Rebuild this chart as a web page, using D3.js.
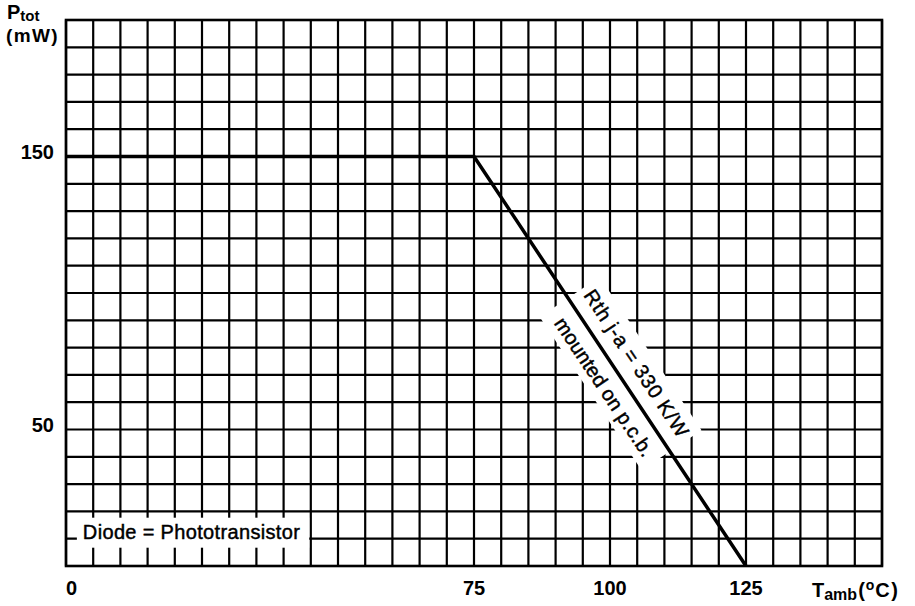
<!DOCTYPE html>
<html><head><meta charset="utf-8">
<script src="https://cdn.jsdelivr.net/npm/d3@7/dist/d3.min.js"></script>
<style>body{margin:0;background:#fff}</style>
</head><body>
<svg id="c" width="915" height="606"></svg>
<script>
// ---- data ----
const tempC = [0, 75, 125];          // T_amb (°C)
const powerMW = [150, 150, 0];       // P_tot (mW)
const xTickLabels = [0, 75, 100, 125];
const yTickLabels = [150, 50];
const xDomain = [0, 150];
const yDomain = [0, 200];
const xGridStep = 5;
const yGridStep = 10;
const noteRth = "Rth j-a = 330 K/W";
const noteMount = "mounted on p.c.b.";
const noteDiode = "Diode = Phototransistor";

// ---- drawing ----
const svg = d3.select("#c");
const font = "'Liberation Sans', Arial, Helvetica, sans-serif";
const x = d3.scaleLinear().domain(xDomain).range([66, 882]);
const y = d3.scaleLinear().domain(yDomain).range([566, 20]);

const grid = svg.append("g");
grid.selectAll("line.v").data(d3.range(xDomain[0], xDomain[1] + 1e-6, xGridStep)).join("line")
  .attr("class", "v").attr("x1", d => x(d)).attr("x2", d => x(d))
  .attr("y1", y(yDomain[0])).attr("y2", y(yDomain[1]))
  .attr("stroke", "#000").attr("stroke-width", 2.2);
grid.selectAll("line.h").data(d3.range(yDomain[0], yDomain[1] + 1e-6, yGridStep)).join("line")
  .attr("class", "h").attr("y1", d => y(d)).attr("y2", d => y(d))
  .attr("x1", x(xDomain[0])).attr("x2", x(xDomain[1]))
  .attr("stroke", "#000").attr("stroke-width", 2.2);
svg.append("rect").attr("x", x(0)).attr("y", y(200)).attr("width", x(150) - x(0)).attr("height", y(0) - y(200))
  .attr("fill", "none").attr("stroke", "#000").attr("stroke-width", 2.6);

// tick labels
svg.append("g").selectAll("text").data(yTickLabels).join("text")
  .attr("x", 54).attr("y", d => y(d) + 2).attr("text-anchor", "end")
  .attr("font-family", font).attr("font-weight", "bold").attr("font-size", 20).text(d => d);
svg.append("g").selectAll("text").data(xTickLabels).join("text")
  .attr("x", d => x(d)).attr("y", 595)
  .attr("text-anchor", d => d === 0 ? "start" : "middle")
  .attr("font-family", font).attr("font-weight", "bold").attr("font-size", 20).text(d => d);

// axis titles
const yt = svg.append("text").attr("x", 7).attr("y", 19).attr("font-family", font).attr("font-weight", "bold").attr("font-size", 20);
yt.append("tspan").text("P");
yt.append("tspan").attr("font-size", 15).attr("dy", 2).text("tot");
svg.append("text").attr("x", 6).attr("y", 42).attr("font-family", font).attr("font-weight", "bold")
  .attr("font-size", 19).attr("letter-spacing", 1.4).text("(mW)");
const xt = svg.append("text").attr("x", 812).attr("y", 597).attr("font-family", font).attr("font-weight", "bold").attr("font-size", 20);
xt.append("tspan").text("T");
xt.append("tspan").attr("font-size", 16).attr("dy", 3).text("amb");
xt.append("tspan").attr("dy", -3).attr("dx", 1).text("(");
xt.append("tspan").attr("font-size", 14).attr("dy", -7).attr("dx", 1).text("o");
xt.append("tspan").attr("dy", 7).attr("dx", 1).attr("letter-spacing", 1.5).text("C)");

// diode note with white backing
const noteStyle = sel => sel.attr("font-family", font).attr("font-size", 20)
  .attr("stroke", "#000").attr("stroke-width", 0.45).attr("lengthAdjust", "spacing");
const dg = svg.append("g");
const dt = dg.append("text").attr("x", x(3.1)).attr("y", y(10)).call(noteStyle)
  .attr("textLength", 217).text(noteDiode);
const db = dt.node().getBBox();
dg.insert("rect", "text").attr("x", db.x - 6).attr("y", db.y - 3).attr("width", db.width + 15).attr("height", db.height + 8).attr("fill", "#fff");

// rotated notes along the derating line
const dx = x(tempC[2]) - x(tempC[1]), dy = y(powerMW[2]) - y(powerMW[1]);
const ang = Math.atan2(dy, dx) * 180 / Math.PI;
const rg = svg.append("g").attr("transform", `translate(${x(tempC[1])},${y(powerMW[1])}) rotate(${ang})`);
rg.append("rect").attr("x", 170).attr("y", -38).attr("width", 184).attr("height", 72).attr("fill", "#fff");
rg.append("text").attr("x", 176).attr("y", -14).call(noteStyle)
  .attr("textLength", 172).text(noteRth);
rg.append("text").attr("x", 183).attr("y", 26).call(noteStyle)
  .attr("textLength", 162).text(noteMount);

// derating curve
svg.append("path").datum(tempC.map((t, i) => [t, powerMW[i]]))
  .attr("d", d3.line().x(d => x(d[0])).y(d => y(d[1])))
  .attr("fill", "none").attr("stroke", "#000").attr("stroke-width", 3.5).attr("stroke-linejoin", "miter");
</script>
</body></html>
